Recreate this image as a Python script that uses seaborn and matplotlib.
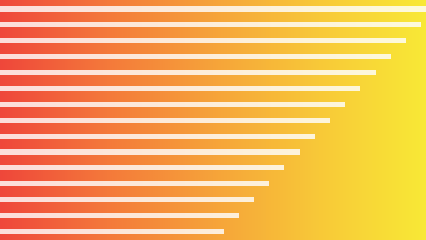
import numpy as np
import pandas as pd
import matplotlib
matplotlib.use("Agg")
import matplotlib.pyplot as plt
from matplotlib.colors import LinearSegmentedColormap
import seaborn as sns

# Data
categories = [f"b{i+1}" for i in range(15)]
values = [436, 421, 406, 391, 376, 360, 345, 330, 315, 300, 284, 269, 254, 239, 224]

df = pd.DataFrame({"cat": categories, "val": values})

sns.set_style("white")
fig = plt.figure(figsize=(4.26, 2.40), dpi=100)

# Gradient background
bg = fig.add_axes([0, 0, 1, 1], zorder=0)
cmap = LinearSegmentedColormap.from_list(
    "grad", ["#ef473b", "#f4793a", "#f6a33a", "#f8c938", "#f9e936"])
grad = np.linspace(0, 1, 512).reshape(1, -1)
bg.imshow(grad, aspect="auto", cmap=cmap, extent=[0, 1, 0, 1])
bg.set_axis_off()

ax = fig.add_axes([0, 0, 1, 1], zorder=1)
ax.patch.set_alpha(0)
sns.barplot(data=df, x="val", y="cat", orient="h", color="white",
            alpha=0.82, width=0.32, ax=ax, saturation=1, linewidth=0)
ax.set_xlim(0, 426)
ax.set_ylim(14.54, -0.566)
ax.set_axis_off()

fig.savefig("out.png", dpi=100)
